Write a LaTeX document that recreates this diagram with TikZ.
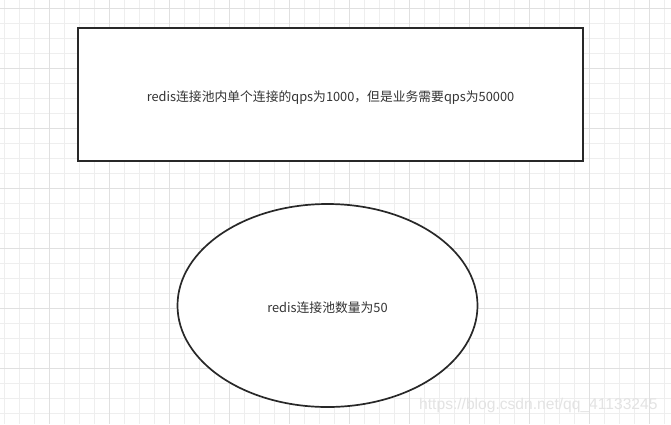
\documentclass[tikz,border=0pt]{standalone}
\usepackage{fontspec}
\setmainfont{Noto Sans CJK SC}
\newfontfamily\markfont{Liberation Sans}
\usetikzlibrary{shapes.geometric}
\definecolor{mygrid}{RGB}{238,238,238}
\definecolor{mygridb}{RGB}{224,224,224}
\definecolor{myline}{RGB}{40,40,40}
\definecolor{mytext}{RGB}{51,51,51}

\begin{document}
\begin{tikzpicture}[x=1pt,y=-1pt,
	every node/.style={text=mytext,font=\fontsize{12.8}{15}\selectfont,text height=14pt,text depth=0pt},
	boxnode/.style={draw=myline,line width=1.7pt,fill=white,minimum width=505pt,minimum height=133pt},
	poolnode/.style={draw=myline,line width=1.7pt,fill=white,ellipse,inner sep=0pt,minimum width=300pt,minimum height=203pt},
	gridline/.style={mygrid,line width=0.8pt},
	gridlineb/.style={mygridb,line width=1pt},
	]
	\useasboundingbox (0,0) rectangle (671,424);
	\fill[white] (0,0) rectangle (671,424);
	
	% the grid
	\foreach \x in {4,19,...,664}
	\draw[gridline] (\x,0) -- (\x,424);
	\foreach \y in {8,23,...,419}
	\draw[gridline] (0,\y) -- (671,\y);
	\foreach \x in {49,109,...,649}
	\draw[gridlineb] (\x,0) -- (\x,424);
	\foreach \y in {8,68,...,368}
	\draw[gridlineb] (0,\y) -- (671,\y);
	
	% the shapes
	\node[boxnode] (qps) at (330.5,94.5) {redis连接池内单个连接的qps为1000，但是业务需要qps为50000};
	\node[poolnode] (pool) at (327.5,305.5) {redis连接池数量为50};
	
	% watermark
	\node[text=gray!22,font=\markfont\fontsize{15.6}{18}\selectfont,text height=,text depth=,anchor=east] (mark) at (661,405) {https://blog.csdn.net/qq\_41133245};
	
\end{tikzpicture}
\end{document}
